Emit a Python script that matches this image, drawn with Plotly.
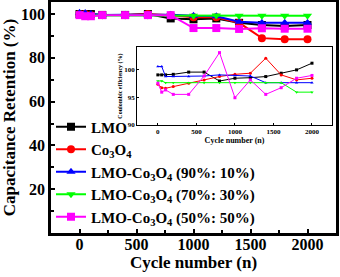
import plotly.graph_objects as go

# ---- data ----
cycles = [0, 50, 100, 200, 400, 600, 800, 1000, 1200, 1400, 1600, 1800, 2000]
ret_lmo = [100, 100, 100, 99.6, 99.6, 100, 98.0, 97.6, 98.0, 96.0, 95.0, 94.5, 95.0]
ret_co = [100, 100, 99.6, 99.6, 99.6, 100, 99.5, 98.5, 98.5, 96.0, 89.0, 88.5, 88.5]
ret_90 = [100.6, 100.5, 100, 99.6, 99.7, 99.7, 99.7, 99.2, 99.0, 96.5, 96.0, 96.0, 96.0]
ret_70 = [100, 99.5, 99.5, 99.3, 99.3, 99.3, 99.3, 99.2, 99.3, 99.2, 99.2, 99.2, 99.2]
ret_50 = [99.5, 99.0, 99.0, 99.5, 99.5, 99.5, 99.5, 93.6, 93.6, 93.2, 93.5, 93.3, 93.3]

ce_lmo = [99.0, 99.0, 99.0, 99.1, 99.5, 99.5, 97.9, 98.4, 98.5, 98.7, 99.3, 99.9, 101.1]
ce_co = [97.3, 96.7, 96.6, 96.9, 97.5, 98.1, 98.7, 99.1, 99.3, 102.0, 99.0, 98.1, 98.4]
ce_90 = [100.5, 100.5, 98.7, 98.7, 98.7, 98.8, 99.0, 98.9, 98.8, 97.6, 97.6, 97.6, 97.6]
ce_70 = [97.9, 97.9, 97.6, 97.6, 97.6, 97.6, 97.6, 97.6, 97.6, 97.6, 97.6, 95.9, 95.9]
ce_50 = [97.5, 95.9, 96.3, 95.5, 95.5, 98.8, 103.0, 94.9, 98.1, 95.5, 96.7, 98.4, 98.9]

names = ["LMO", "Co<sub>3</sub>O<sub>4</sub>",
         "LMO-Co<sub>3</sub>O<sub>4</sub> (90%: 10%)",
         "LMO-Co<sub>3</sub>O<sub>4</sub> (70%: 30%)",
         "LMO-Co<sub>3</sub>O<sub>4</sub> (50%: 50%)"]
colors = ["#000000", "#FF0000", "#0000FF", "#00FF00", "#FF00FF"]
symbols = ["square", "circle", "triangle-up", "triangle-down", "square"]
main_vals = [ret_lmo, ret_co, ret_90, ret_70, ret_50]
inset_vals = [ce_lmo, ce_co, ce_90, ce_70, ce_50]

FONT = "Liberation Serif"

fig = go.Figure()
for n, c, s, v in zip(names, colors, symbols, main_vals):
    fig.add_trace(go.Scatter(x=cycles, y=v, name=n, mode="lines+markers",
                             line=dict(color=c, width=2),
                             marker=dict(color=c, symbol=s, size=8),
                             xaxis="x", yaxis="y"))
for n, c, s, v in zip(names, colors, symbols, inset_vals):
    fig.add_trace(go.Scatter(x=cycles, y=v, name=n, mode="lines+markers",
                             line=dict(color=c, width=1),
                             marker=dict(color=c, symbol=s, size=3),
                             showlegend=False, xaxis="x2", yaxis="y2"))

ix0, ix1, iy0, iy1 = 0.302, 0.986, 0.4675, 0.805

fig.update_layout(
    width=340, height=277,
    margin=dict(l=51, r=4, t=2, b=44, autoexpand=False),
    paper_bgcolor="white", plot_bgcolor="white",
    font=dict(family=FONT, color="black"),
    showlegend=True,
    legend=dict(x=0.0, y=0.53, xanchor="left", yanchor="top",
                bgcolor="rgba(0,0,0,0)", borderwidth=0,
                font=dict(family=FONT, size=15, color="black", weight="bold"),
                tracegroupgap=0, itemwidth=30),
    xaxis=dict(range=[-250, 2250], tickvals=[0, 500, 1000, 1500, 2000],
               automargin=False, ticklabelstandoff=-5,
               ticks="inside", ticklen=4, tickwidth=2, tickcolor="black",
               minor=dict(tickvals=[250, 750, 1250, 1750], ticks="inside", ticklen=3, tickwidth=1.5, tickcolor="black"),
               showline=True, linewidth=2.5, linecolor="black", mirror=True,
               showgrid=False, zeroline=False,
               tickfont=dict(family=FONT, size=16, weight="bold"),
               title=dict(text="Cycle number (n)", font=dict(family=FONT, size=17, weight="bold"), standoff=0)),
    yaxis=dict(range=[0, 105.5], tickvals=[20, 40, 60, 80, 100],
               automargin=False,
               ticks="inside", ticklen=4, tickwidth=2, tickcolor="black",
               minor=dict(tickvals=[10, 30, 50, 70, 90], ticks="inside", ticklen=3, tickwidth=1.5, tickcolor="black"),
               showline=True, linewidth=2.5, linecolor="black", mirror=True,
               showgrid=False, zeroline=False,
               tickfont=dict(family=FONT, size=16, weight="bold"),
               title=dict(text="Capacitance Retention (%)", font=dict(family=FONT, size=17, weight="bold"), standoff=4)),
    xaxis2=dict(domain=[ix0, ix1], anchor="y2", range=[-270, 2260],
                tickvals=[0, 500, 1000, 1500, 2000], automargin=False,
                ticks="inside", ticklen=2, tickwidth=1, tickcolor="black",
                showline=True, linewidth=1, linecolor="black", mirror=True,
                showgrid=False, zeroline=False,
                tickfont=dict(family=FONT, size=7, weight="bold"),
                title=dict(text="Cycle number (n)", font=dict(family=FONT, size=8, weight="bold"), standoff=1)),
    yaxis2=dict(domain=[iy0, iy1], anchor="x2", range=[90, 104],
                tickvals=[90, 95, 100], automargin=False,
                ticks="inside", ticklen=2, tickwidth=1, tickcolor="black",
                showline=True, linewidth=1, linecolor="black", mirror=True,
                showgrid=False, zeroline=False,
                tickfont=dict(family=FONT, size=7, weight="bold"),
                title=dict(text="Coulombic efficiency (%)", font=dict(family=FONT, size=6, weight="bold"), standoff=1)),
    shapes=[dict(type="rect", xref="paper", yref="paper", x0=ix0, x1=ix1, y0=iy0, y1=iy1,
                 fillcolor="white", line=dict(width=0), layer="below")],
)

fig.write_html("out.html", config={"displayModeBar": False},
               post_script="document.body.style.margin='0';")
